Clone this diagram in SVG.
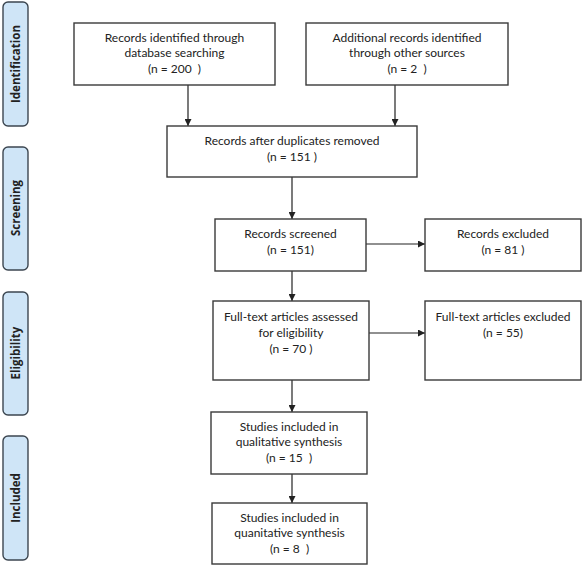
<svg xmlns="http://www.w3.org/2000/svg" width="583" height="567" viewBox="0 0 583 567">
<style>
.bg{fill:#ffffff}
.box{fill:#ffffff;stroke:#3a3a3a;stroke-width:1.4}
.side{fill:#cfe5f7;stroke:#3c4650;stroke-width:1.4}
.t{font-family:Lato,"Liberation Sans",sans-serif;font-size:12px;fill:#222;text-anchor:middle;white-space:pre}
.st{font-family:"Open Sans","Liberation Sans",sans-serif;font-size:11.5px;font-weight:bold;fill:#222;text-anchor:middle}
.c{stroke:#222;stroke-width:1.2;fill:none;marker-end:url(#ah)}
</style>
<defs>
<marker id="ah" viewBox="0 0 10 10" refX="10" refY="5" markerWidth="7" markerHeight="7" markerUnits="userSpaceOnUse" orient="auto">
<path d="M0,0 L10,5 L0,10 z" fill="#222"/>
</marker>
</defs>
<rect class="bg" x="0" y="0" width="583" height="567"/>

<g id="stage-identification">
<rect class="side" x="3" y="2" width="25" height="124" rx="5"/>
<text class="st" transform="translate(20,64) rotate(-90)">Identification</text>
</g>
<g id="stage-screening">
<rect class="side" x="3" y="147" width="25" height="123" rx="5"/>
<text class="st" transform="translate(20,208) rotate(-90)">Screening</text>
</g>
<g id="stage-eligibility">
<rect class="side" x="3" y="292" width="25" height="123" rx="5"/>
<text class="st" transform="translate(20,353) rotate(-90)">Eligibility</text>
</g>
<g id="stage-included">
<rect class="side" x="3" y="436" width="25" height="124" rx="5"/>
<text class="st" transform="translate(20,498) rotate(-90)">Included</text>
</g>

<g id="connectors">
<line class="c" x1="188" y1="85" x2="188" y2="126"/>
<line class="c" x1="395" y1="85" x2="395" y2="126"/>
<line class="c" x1="292" y1="177" x2="292" y2="219"/>
<line class="c" x1="366" y1="244" x2="425" y2="244"/>
<line class="c" x1="292" y1="271" x2="292" y2="301"/>
<line class="c" x1="369" y1="333" x2="425" y2="333"/>
<line class="c" x1="292" y1="380" x2="292" y2="412"/>
<line class="c" x1="292" y1="474" x2="292" y2="503"/>
</g>

<g id="db-search">
<rect class="box" x="74" y="23" width="201" height="62"/>
<text class="t" x="174.5" y="42">Records identified through</text>
<text class="t" x="174.5" y="57">database searching</text>
<text class="t" x="174.5" y="73">(n = 200  )</text>
</g>
<g id="other-sources">
<rect class="box" x="306" y="23" width="202" height="62"/>
<text class="t" x="407" y="42">Additional records identified</text>
<text class="t" x="407" y="57">through other sources</text>
<text class="t" x="407" y="73">(n = 2  )</text>
</g>
<g id="dup-removed">
<rect class="box" x="167" y="126" width="250" height="51"/>
<text class="t" x="292" y="145">Records after duplicates removed</text>
<text class="t" x="292" y="161">(n = 151 )</text>
</g>
<g id="screened">
<rect class="box" x="215" y="219" width="151" height="52"/>
<text class="t" x="290.5" y="238">Records screened</text>
<text class="t" x="290.5" y="254">(n = 151)</text>
</g>
<g id="excluded">
<rect class="box" x="425" y="219" width="156" height="52"/>
<text class="t" x="503" y="238">Records excluded</text>
<text class="t" x="503" y="254">(n = 81 )</text>
</g>
<g id="fulltext-assessed">
<rect class="box" x="213" y="301" width="156" height="79"/>
<text class="t" x="291" y="321">Full-text articles assessed</text>
<text class="t" x="291" y="337">for eligibility</text>
<text class="t" x="291" y="353">(n = 70 )</text>
</g>
<g id="fulltext-excluded">
<rect class="box" x="425" y="301" width="156" height="79"/>
<text class="t" x="503" y="321">Full-text articles excluded</text>
<text class="t" x="503" y="337">(n = 55)</text>
</g>
<g id="qualitative">
<rect class="box" x="211" y="412" width="156" height="62"/>
<text class="t" x="289" y="431">Studies included in</text>
<text class="t" x="289" y="446">qualitative synthesis</text>
<text class="t" x="289" y="462">(n = 15  )</text>
</g>
<g id="quantitative">
<rect class="box" x="212" y="503" width="155" height="61"/>
<text class="t" x="289.5" y="522">Studies included in</text>
<text class="t" x="289.5" y="537">quanitative synthesis</text>
<text class="t" x="289.5" y="553">(n = 8  )</text>
</g>
</svg>
